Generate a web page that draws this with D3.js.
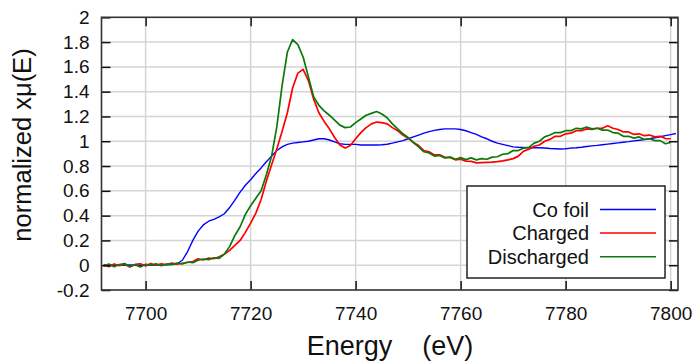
<!DOCTYPE html>
<html>
<head>
<meta charset="utf-8">
<script src="https://cdn.jsdelivr.net/npm/d3@7"></script>
<style>
	body { margin: 0; background: #fff; }
	svg { display: block; font-family: "Liberation Sans", Arial, sans-serif; }
</style>
</head>
<body>
<script>
// Photon energy (eV), one sample per eV
const energy = [
	7692, 7693, 7694, 7695, 7696, 7697, 7698, 7699, 7700, 7701,
	7702, 7703, 7704, 7705, 7706, 7707, 7708, 7709, 7710, 7711,
	7712, 7713, 7714, 7715, 7716, 7717, 7718, 7719, 7720, 7721,
	7722, 7723, 7724, 7725, 7726, 7727, 7728, 7729, 7730, 7731,
	7732, 7733, 7734, 7735, 7736, 7737, 7738, 7739, 7740, 7741,
	7742, 7743, 7744, 7745, 7746, 7747, 7748, 7749, 7750, 7751,
	7752, 7753, 7754, 7755, 7756, 7757, 7758, 7759, 7760, 7761,
	7762, 7763, 7764, 7765, 7766, 7767, 7768, 7769, 7770, 7771,
	7772, 7773, 7774, 7775, 7776, 7777, 7778, 7779, 7780, 7781,
	7782, 7783, 7784, 7785, 7786, 7787, 7788, 7789, 7790, 7791,
	7792, 7793, 7794, 7795, 7796, 7797, 7798, 7799, 7800, 7801
];

// normalized absorption
const coFoil = [
	0.0, 0.0, 0.002, 0.0, 0.0, 0.002, 0.0, 0.0, 0.002, 0.0,
	0.002, 0.003, 0.004, 0.006, 0.012, 0.04, 0.11, 0.2, 0.275, 0.325,
	0.355, 0.37, 0.39, 0.415, 0.465, 0.525, 0.59, 0.645, 0.69, 0.74,
	0.785, 0.835, 0.88, 0.925, 0.955, 0.975, 0.985, 0.99, 0.995, 1.0,
	1.01, 1.02, 1.02, 1.01, 0.995, 0.98, 0.975, 0.975, 0.975, 0.97,
	0.97, 0.97, 0.97, 0.972, 0.976, 0.985, 0.995, 1.005, 1.02, 1.035,
	1.05, 1.065, 1.078, 1.088, 1.095, 1.1, 1.1, 1.1, 1.095, 1.085,
	1.07, 1.055, 1.035, 1.02, 1.0, 0.985, 0.975, 0.965, 0.955, 0.952,
	0.95, 0.948, 0.947, 0.947, 0.945, 0.942, 0.94, 0.938, 0.94, 0.945,
	0.948, 0.952, 0.958, 0.963, 0.967, 0.972, 0.977, 0.982, 0.987, 0.992,
	0.997, 1.003, 1.008, 1.013, 1.02, 1.028, 1.036, 1.045, 1.053, 1.063
];

const charged = [
	0.005, -0.012, 0.01, -0.004, 0.008, -0.015, 0.006, 0.012, -0.006, 0.014,
	0.0, 0.012, 0.004, 0.018, 0.008, 0.016, 0.022, 0.03, 0.052, 0.042,
	0.058, 0.052, 0.068, 0.088, 0.12, 0.16, 0.2, 0.265, 0.34, 0.42,
	0.53, 0.68, 0.81, 0.94, 1.08, 1.23, 1.43, 1.55, 1.58, 1.49,
	1.34, 1.23, 1.16, 1.1, 1.03, 0.97, 0.945, 0.965, 1.02, 1.07,
	1.11, 1.14, 1.155, 1.15, 1.14, 1.11, 1.085, 1.05, 1.025, 0.99,
	0.965, 0.925, 0.915, 0.89, 0.89, 0.87, 0.87, 0.85, 0.855, 0.84,
	0.838, 0.826, 0.828, 0.83, 0.832, 0.836, 0.842, 0.85, 0.86, 0.88,
	0.92, 0.935, 0.96, 0.97, 1.0, 1.015, 1.04, 1.04, 1.06, 1.065,
	1.085, 1.085, 1.1, 1.095, 1.105, 1.105, 1.125, 1.105, 1.095, 1.075,
	1.075, 1.055, 1.06, 1.045, 1.05, 1.035, 1.04, 1.022, 1.02
];

const discharged = [
	-0.008, 0.01, -0.012, 0.006, 0.014, -0.01, 0.004, -0.014, 0.008, 0.0,
	0.012, -0.004, 0.01, 0.006, 0.018, 0.01, 0.026, 0.02, 0.04, 0.05,
	0.045, 0.06, 0.055, 0.09, 0.15, 0.24, 0.31, 0.41, 0.48, 0.54,
	0.6, 0.73, 0.88, 1.12, 1.45, 1.72, 1.82, 1.78, 1.68, 1.52,
	1.36, 1.29, 1.245, 1.21, 1.17, 1.13, 1.11, 1.115, 1.15, 1.18,
	1.21, 1.225, 1.24, 1.22, 1.19, 1.14, 1.1, 1.06, 1.03, 0.99,
	0.955, 0.915, 0.905, 0.88, 0.885, 0.865, 0.872, 0.855, 0.868, 0.852,
	0.866, 0.85, 0.86, 0.855, 0.872, 0.875, 0.895, 0.9, 0.925, 0.925,
	0.945, 0.95, 0.985, 1.0, 1.035, 1.05, 1.07, 1.07, 1.085, 1.085,
	1.105, 1.1, 1.115, 1.1, 1.105, 1.09, 1.09, 1.07, 1.065, 1.04,
	1.04, 1.025, 1.035, 1.015, 1.02, 1.005, 1.005, 0.98, 0.99
];

const seriesNames = ['Co foil', 'Charged', 'Discharged'];
const seriesColors = ['#0000ff', '#ff0000', '#0b7a0b'];
const xTicks = [7700, 7720, 7740, 7760, 7780, 7800];
const yTicks = [-0.2, 0, 0.2, 0.4, 0.6, 0.8, 1, 1.2, 1.4, 1.6, 1.8, 2];

const width = 694;
const height = 364;
const plot = { left: 101.5, right: 678, top: 17.3, bottom: 290 };

const svg = d3.select('body')
	.append('svg')
	.attr('width', width)
	.attr('height', height);

svg.append('rect')
	.attr('width', width)
	.attr('height', height)
	.attr('fill', '#fff');

const x = d3.scaleLinear()
	.domain([7691.6, 7801.4])
	.range([plot.left, plot.right]);

const y = d3.scaleLinear()
	.domain([-0.2, 2])
	.range([plot.bottom, plot.top]);

const fmt = d => String(+d.toFixed(1));

// Grid
const grid = svg.append('g')
	.attr('stroke', '#d4d4d4')
	.attr('stroke-width', 1.5);

grid.selectAll('.gx')
	.data(xTicks)
	.join('line')
	.attr('x1', d => x(d)).attr('x2', d => x(d))
	.attr('y1', plot.top).attr('y2', plot.bottom);

grid.selectAll('.gy')
	.data(yTicks.filter(d => d > -0.2 && d < 2))
	.join('line')
	.attr('x1', plot.left).attr('x2', plot.right)
	.attr('y1', d => y(d)).attr('y2', d => y(d));

// Curves
svg.append('clipPath')
	.attr('id', 'clip')
	.append('rect')
	.attr('x', plot.left)
	.attr('y', plot.top)
	.attr('width', plot.right - plot.left)
	.attr('height', plot.bottom - plot.top);

const line = d3.line()
	.x(d => x(d[0]))
	.y(d => y(d[1]));

[coFoil, charged, discharged].forEach((vals, i) => {
	svg.append('path')
		.attr('clip-path', 'url(#clip)')
		.attr('d', line(vals.map((v, j) => [energy[j], v])))
		.attr('fill', 'none')
		.attr('stroke', seriesColors[i])
		.attr('stroke-width', i === 0 ? 1.4 : 1.7)
		.attr('stroke-linejoin', 'round');
});

// Axes, ticks pointing inward
const axisStyle = g => {
	g.select('.domain').remove();
	g.selectAll('.tick line').attr('stroke', '#111').attr('stroke-width', 1.5);
	g.selectAll('.tick text')
		.attr('fill', '#111')
		.style('font-size', '19px')
		.style('font-family', '"Liberation Sans", Arial, sans-serif');
};

svg.append('g')
	.attr('transform', `translate(0,${plot.bottom})`)
	.call(d3.axisBottom(x).tickValues(xTicks).tickSizeInner(-9).tickSizeOuter(0).tickPadding(17).tickFormat(d => String(d)))
	.call(axisStyle);

svg.append('g')
	.attr('transform', `translate(0,${plot.top})`)
	.call(d3.axisTop(x).tickValues(xTicks).tickSizeInner(-9).tickSizeOuter(0).tickFormat(''))
	.call(axisStyle);

svg.append('g')
	.attr('transform', `translate(${plot.left},0)`)
	.call(d3.axisLeft(y).tickValues(yTicks).tickSizeInner(-9).tickSizeOuter(0).tickPadding(12).tickFormat(fmt))
	.call(axisStyle);

svg.append('g')
	.attr('transform', `translate(${plot.right},0)`)
	.call(d3.axisRight(y).tickValues(yTicks).tickSizeInner(-9).tickSizeOuter(0).tickFormat(''))
	.call(axisStyle);

// Frame
svg.append('rect')
	.attr('x', plot.left)
	.attr('y', plot.top)
	.attr('width', plot.right - plot.left)
	.attr('height', plot.bottom - plot.top)
	.attr('fill', 'none')
	.attr('stroke', '#333')
	.attr('stroke-width', 1.6);

// Axis titles
svg.append('text')
	.attr('x', 390)
	.attr('y', 355)
	.attr('text-anchor', 'middle')
	.style('font-size', '27px')
	.style('white-space', 'pre')
	.attr('fill', '#111')
	.text('Energy    (eV)');

svg.append('text')
	.attr('transform', 'translate(31,145) rotate(-90)')
	.attr('text-anchor', 'middle')
	.style('font-size', '25.5px')
	.attr('fill', '#111')
	.text('normalized xμ(E)');

// Legend
const legend = svg.append('g');

legend.append('rect')
	.attr('x', 467)
	.attr('y', 186)
	.attr('width', 198)
	.attr('height', 92)
	.attr('fill', '#fff')
	.attr('stroke', '#222')
	.attr('stroke-width', 1.5);

const rows = legend.selectAll('.row')
	.data(seriesNames)
	.join('g')
	.attr('transform', (d, i) => `translate(0,${209.5 + i * 23.6})`);

rows.append('text')
	.attr('x', 589)
	.attr('dy', '0.35em')
	.attr('text-anchor', 'end')
	.style('font-size', '20px')
	.attr('fill', '#111')
	.text(d => d);

rows.append('line')
	.attr('x1', 600)
	.attr('x2', 656)
	.attr('stroke', (d, i) => seriesColors[i])
	.attr('stroke-width', 1.5);
</script>
</body>
</html>
